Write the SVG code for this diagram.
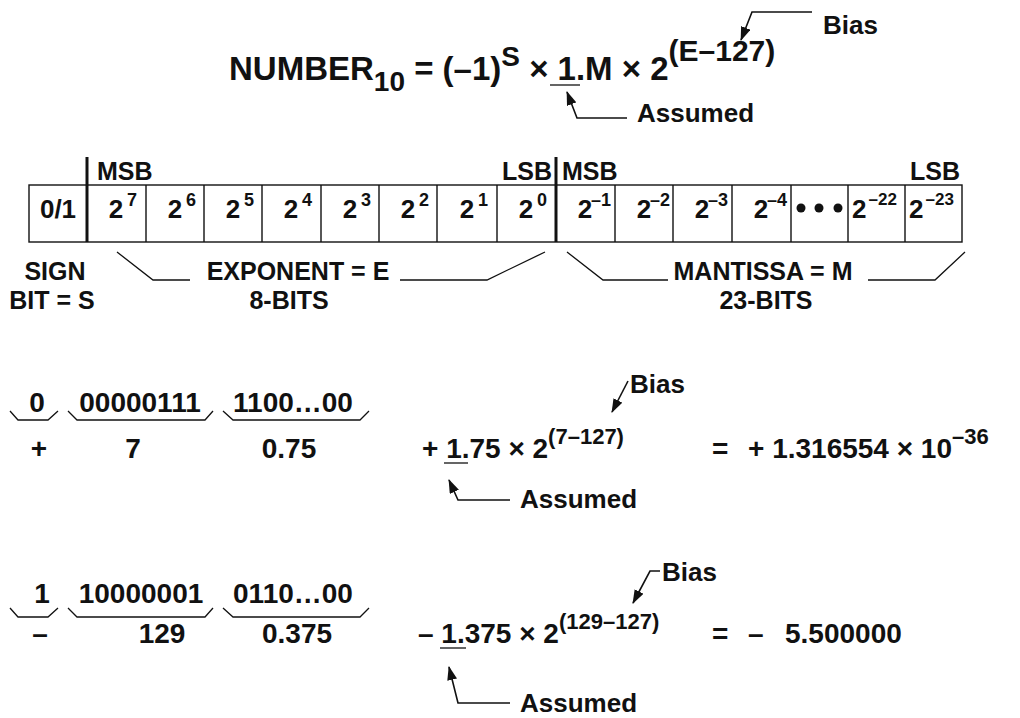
<svg xmlns="http://www.w3.org/2000/svg" width="1020" height="718" viewBox="0 0 1020 718">
<defs>
<style>
.t{font-family:"Liberation Sans",Arial,sans-serif;font-weight:bold;fill:#111}
.f33{font-size:33px}.f28{font-size:28px}.f26{font-size:26px}.f25{font-size:25px}.f22{font-size:22px}.f18{font-size:18px}.f17{font-size:17px}
.m{text-anchor:middle}
.ln{fill:none;stroke:#111;stroke-width:1.3}
.cell{fill:none;stroke:#111;stroke-width:1.4}
.thick{stroke:#111;stroke-width:3}
.arr{fill:none;stroke:#111;stroke-width:1.6;marker-end:url(#ah)}
</style>
<marker id="ah" viewBox="0 0 14 10" refX="13" refY="5" markerWidth="14" markerHeight="10" markerUnits="userSpaceOnUse" orient="auto"><path d="M0,0 L14,5 L0,10 z" fill="#111"/></marker>
</defs>
<rect width="1020" height="718" fill="#fff"/>

<g id="formula">
<text class="t f33" x="229" y="80">NUMBER<tspan class="f28" y="91">10</tspan><tspan y="80"> = (–1)</tspan><tspan class="f28" y="66">S</tspan><tspan y="80"> × 1.M × 2</tspan><tspan style="font-size:30px" y="61">(E–127)</tspan></text>
<line class="ln" x1="550" y1="85" x2="580" y2="85"/>
<text class="t f26" x="823" y="34">Bias</text>
<text class="t f26" x="637" y="122">Assumed</text>
</g>

<g id="register">
<rect class="cell" x="29" y="185" width="933" height="57"/>
<path class="cell" d="M146,185V242M204,185V242M262,185V242M321,185V242M379,185V242M437,185V242M497,185V242M615,185V242M673,185V242M732,185V242M791,185V242M848,185V242M905,185V242"/>
<line class="thick" x1="87" y1="157" x2="87" y2="242"/>
<line class="thick" x1="556" y1="157" x2="556" y2="242"/>
<text class="t f25" x="97" y="180">MSB</text>
<text class="t f25" x="552" y="180" text-anchor="end">LSB</text>
<text class="t f25" x="562" y="180">MSB</text>
<text class="t f25" x="960" y="180" text-anchor="end">LSB</text>
<text class="t f26 m" x="58" y="218">0/1</text>
<text class="t f26 m" x="116" y="218">2<tspan class="f18" dx="1.5" y="206">7</tspan></text>
<text class="t f26 m" x="175" y="218">2<tspan class="f18" dx="1.5" y="206">6</tspan></text>
<text class="t f26 m" x="233" y="218">2<tspan class="f18" dx="1.5" y="206">5</tspan></text>
<text class="t f26 m" x="291" y="218">2<tspan class="f18" dx="1.5" y="206">4</tspan></text>
<text class="t f26 m" x="350" y="218">2<tspan class="f18" dx="1.5" y="206">3</tspan></text>
<text class="t f26 m" x="408" y="218">2<tspan class="f18" dx="1.5" y="206">2</tspan></text>
<text class="t f26 m" x="467" y="218">2<tspan class="f18" dx="1.5" y="206">1</tspan></text>
<text class="t f26 m" x="526" y="218">2<tspan class="f18" dx="1.5" y="206">0</tspan></text>
<text class="t f26 m" x="585" y="218">2<tspan class="f18" dx="1.5" y="206">–1</tspan></text>
<text class="t f26 m" x="644" y="218">2<tspan class="f18" dx="1.5" y="206">–2</tspan></text>
<text class="t f26 m" x="702" y="218">2<tspan class="f18" dx="1.5" y="206">–3</tspan></text>
<text class="t f26 m" x="761" y="218">2<tspan class="f18" dx="1.5" y="206">–4</tspan></text>
<circle cx="801" cy="208" r="4.5" fill="#111"/>
<circle cx="819" cy="208" r="4.5" fill="#111"/>
<circle cx="838" cy="208" r="4.5" fill="#111"/>
<text class="t f26" x="852" y="218">2</text>
<text class="t f17" x="868.5" y="205">–22</text>
<text class="t f26" x="909" y="218">2</text>
<text class="t f17" x="925.5" y="205">–23</text>
</g>

<g id="sign-label">
<text class="t f25 m" x="55" y="280">SIGN</text>
<text class="t f25 m" x="52" y="309">BIT = S</text>
</g>
<g id="exponent-label">
<text class="t f25 m" x="298" y="280">EXPONENT = E</text>
<text class="t f25 m" x="289" y="309">8-BITS</text>
</g>
<g id="mantissa-label">
<text class="t f25 m" x="763" y="280">MANTISSA = M</text>
<text class="t f25 m" x="766" y="309">23-BITS</text>
</g>

<g id="example1">
<text class="t f28 m" x="37" y="412">0</text>
<text class="t f28 m" x="140" y="412">00000111</text>
<text class="t f28 m" x="293" y="412">1100…00</text>
<text class="t f28 m" x="39" y="458">+</text>
<text class="t f28 m" x="133" y="458">7</text>
<text class="t f28 m" x="289" y="458">0.75</text>
<text class="t f28" x="422" y="458">+ 1.75 × 2<tspan class="f22" y="444">(7–127)</tspan></text>
<line class="ln" x1="444" y1="463" x2="468" y2="463"/>
<text class="t f28" x="712" y="458">=</text>
<text class="t f28" x="748" y="458">+ 1.316554 × 10<tspan class="f22" y="444">–36</tspan></text>
<text class="t f26" x="630" y="393">Bias</text>
<text class="t f26" x="520" y="508">Assumed</text>
</g>

<g id="example2">
<text class="t f28 m" x="42" y="603">1</text>
<text class="t f28 m" x="141" y="603">10000001</text>
<text class="t f28 m" x="293" y="603">0110…00</text>
<text class="t f28 m" x="40" y="643">–</text>
<text class="t f28 m" x="162" y="643">129</text>
<text class="t f28 m" x="297" y="643">0.375</text>
<text class="t f28" x="418" y="643">– 1.375 × 2<tspan class="f22" y="629">(129–127)</tspan></text>
<line class="ln" x1="440" y1="648" x2="466" y2="648"/>
<text class="t f28" x="712" y="643">=</text>
<text class="t f28" x="748" y="643">–</text>
<text class="t f28" x="785" y="643">5.500000</text>
<text class="t f26" x="662" y="581">Bias</text>
<text class="t f26" x="520" y="712">Assumed</text>
</g>

<g id="connectors">
<path class="arr" d="M812,12 H752 L741,40"/>
<path class="arr" d="M627,118 H577 L567,92"/>
<path class="ln" d="M117,252 L153,280 H190 M400,280 H487 L545,252"/>
<path class="ln" d="M567,252 L603,280 H668 M868,280 H935 L965,252"/>
<path class="ln" d="M10,411 L18,420 H48 L58,411 M68,411 L77,420 H205 L213,411 M223,411 L233,420 H360 L369,411"/>
<path class="ln" d="M10,608 L18,617 H48 L58,608 M68,608 L77,617 H205 L213,608 M223,608 L233,617 H360 L369,608"/>
<path class="arr" d="M628,381 L612,412"/>
<path class="arr" d="M510,500 H458 L449,480"/>
<path class="arr" d="M660,571 H650 L633,603"/>
<path class="arr" d="M510,703 H458 L449,667"/>
</g>
</svg>
